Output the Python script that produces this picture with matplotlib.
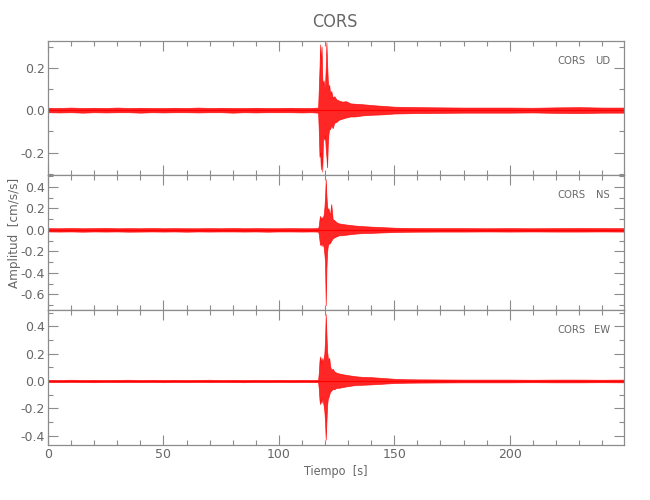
import matplotlib
matplotlib.use("Agg")
import matplotlib.pyplot as plt
from matplotlib.ticker import MultipleLocator, FormatStrFormatter

station = "CORS"
components = ["UD", "NS", "EW"]
x_label = "Tiempo  [s]"
y_label = "Amplitud  [cm/s/s]"

# time samples (s) at which the trace envelope was read
t = [0, 5, 10, 15, 20, 25, 30, 35, 40, 45, 50, 55, 60, 65, 70, 75, 80, 85, 90, 95,
     100, 105, 110, 114,
     117.0, 117.3, 117.6, 117.9, 118.2, 118.5, 118.8, 119.1, 119.4, 119.7, 120.0,
     120.3, 120.6, 120.9, 121.2, 121.5, 121.8,
     122.2, 122.7, 123.3, 124.0, 125.0, 126.0, 127.5, 129, 131, 133, 136, 140, 145,
     150, 155, 160,
     170, 180, 190, 200, 210, 220, 230, 240, 249.5]

ud_upper = [0.011, 0.010, 0.012, 0.010, 0.011, 0.010, 0.012, 0.010, 0.011, 0.010, 0.010, 0.011,
            0.010, 0.012, 0.010, 0.011, 0.010, 0.010, 0.011, 0.010, 0.010, 0.011, 0.010, 0.010,
            0.012, 0.10, 0.20, 0.31, 0.22, 0.30, 0.15, 0.12, 0.14, 0.10, 0.12, 0.20, 0.32, 0.22,
            0.14, 0.10, 0.12,
            0.08, 0.09, 0.06, 0.065, 0.05, 0.045, 0.04, 0.042, 0.032, 0.03, 0.028, 0.024, 0.02,
            0.016, 0.015, 0.014,
            0.013, 0.012, 0.012, 0.012, 0.011, 0.013, 0.014, 0.012, 0.012]
ud_lower = [-0.010, -0.011, -0.010, -0.012, -0.010, -0.011, -0.010, -0.010, -0.012, -0.010, -0.011, -0.010,
            -0.010, -0.011, -0.010, -0.010, -0.012, -0.010, -0.011, -0.010, -0.010, -0.010, -0.011, -0.010,
            -0.012, -0.10, -0.22, -0.20, -0.28, -0.20, -0.29, -0.14, -0.12, -0.14, -0.12, -0.18, -0.22, -0.27,
            -0.16, -0.11, -0.09,
            -0.09, -0.07, -0.085, -0.06, -0.055, -0.045, -0.04, -0.035, -0.03, -0.03, -0.025, -0.022, -0.02,
            -0.016, -0.015, -0.014,
            -0.013, -0.012, -0.012, -0.012, -0.011, -0.013, -0.014, -0.012, -0.012]

ns_upper = [0.016, 0.015, 0.017, 0.015, 0.016, 0.018, 0.015, 0.016, 0.015, 0.017, 0.015, 0.016,
            0.015, 0.015, 0.016, 0.015, 0.017, 0.015, 0.016, 0.015, 0.015, 0.016, 0.015, 0.015,
            0.016, 0.04, 0.10, 0.13, 0.09, 0.12, 0.10, 0.12, 0.14, 0.20, 0.30, 0.47, 0.32, 0.22,
            0.18, 0.20, 0.16,
            0.15, 0.24, 0.10, 0.09, 0.07, 0.06, 0.055, 0.05, 0.045, 0.04, 0.035, 0.03, 0.025,
            0.02, 0.018, 0.017,
            0.016, 0.016, 0.015, 0.016, 0.015, 0.016, 0.017, 0.016, 0.016]
ns_lower = [-0.015, -0.016, -0.015, -0.017, -0.015, -0.016, -0.015, -0.017, -0.016, -0.015, -0.016, -0.015,
            -0.017, -0.015, -0.016, -0.015, -0.015, -0.016, -0.015, -0.017, -0.015, -0.015, -0.016, -0.015,
            -0.016, -0.04, -0.10, -0.14, -0.12, -0.15, -0.12, -0.14, -0.16, -0.22, -0.30, -0.70, -0.36, -0.20,
            -0.15, -0.12, -0.13,
            -0.12, -0.10, -0.08, -0.07, -0.06, -0.05, -0.05, -0.045, -0.04, -0.035, -0.03, -0.028, -0.024,
            -0.02, -0.018, -0.017,
            -0.016, -0.016, -0.015, -0.016, -0.015, -0.016, -0.016, -0.015, -0.016]

ew_upper = [0.008, 0.007, 0.009, 0.007, 0.008, 0.007, 0.008, 0.009, 0.007, 0.008, 0.007, 0.008,
            0.007, 0.008, 0.009, 0.007, 0.008, 0.007, 0.008, 0.007, 0.008, 0.007, 0.008, 0.007,
            0.008, 0.06, 0.15, 0.18, 0.12, 0.17, 0.14, 0.15, 0.17, 0.20, 0.30, 0.49, 0.35, 0.22,
            0.17, 0.15, 0.17,
            0.11, 0.08, 0.09, 0.07, 0.06, 0.055, 0.05, 0.045, 0.04, 0.035, 0.03, 0.028, 0.022,
            0.016, 0.013, 0.012,
            0.011, 0.010, 0.010, 0.010, 0.009, 0.010, 0.010, 0.009, 0.010]
ew_lower = [-0.007, -0.008, -0.007, -0.008, -0.009, -0.007, -0.008, -0.007, -0.008, -0.007, -0.009, -0.007,
            -0.008, -0.007, -0.008, -0.007, -0.008, -0.009, -0.007, -0.008, -0.007, -0.008, -0.007, -0.008,
            -0.008, -0.06, -0.14, -0.17, -0.13, -0.16, -0.12, -0.15, -0.18, -0.22, -0.30, -0.43, -0.30, -0.18,
            -0.13, -0.12, -0.10,
            -0.08, -0.07, -0.06, -0.06, -0.05, -0.05, -0.045, -0.04, -0.035, -0.03, -0.028, -0.025, -0.02,
            -0.015, -0.013, -0.012,
            -0.011, -0.010, -0.010, -0.010, -0.009, -0.010, -0.010, -0.009, -0.010]

uppers = [ud_upper, ns_upper, ew_upper]
lowers = [ud_lower, ns_lower, ew_lower]
ylims = [(-0.306, 0.326), (-0.745, 0.51), (-0.469, 0.52)]
x_max = 249.5

axis_col = "#8c8c8c"
text_col = "#666666"
fam = ["DejaVu Sans"]

fig = plt.figure(figsize=(6.5, 5), dpi=100)
left, width = 48 / 650, 576 / 650
panels = [(41, 175), (175, 310), (310, 445)]

for i, comp in enumerate(components):
    top_px, bot_px = panels[i]
    ax = fig.add_axes([left, 1 - bot_px / 500, width, (bot_px - top_px) / 500])
    ax.fill_between(t, lowers[i], uppers[i], color="red", lw=0.5, alpha=0.85)
    ax.axhline(0, color="red", lw=0.9)
    ax.set_xlim(0, x_max)
    ax.set_ylim(*ylims[i])
    ax.xaxis.set_major_locator(MultipleLocator(50))
    ax.xaxis.set_minor_locator(MultipleLocator(10))
    ax.yaxis.set_major_locator(MultipleLocator(0.2))
    ax.yaxis.set_minor_locator(MultipleLocator(0.1))
    ax.yaxis.set_major_formatter(FormatStrFormatter("%.1f"))
    ax.tick_params(which="both", direction="in", top=True, right=True,
                   color=axis_col, width=0.8, labelcolor=text_col, labelsize=9)
    ax.tick_params(which="major", length=7, pad=2)
    ax.tick_params(which="minor", length=3.5)
    for s in ax.spines.values():
        s.set_color(axis_col)
        s.set_linewidth(0.9)
    if i < 2:
        ax.tick_params(labelbottom=False)
    ax.text((557 - 48) / 576, 0.85, station, transform=ax.transAxes,
            ha="left", va="center", color=text_col, fontsize=8, family=fam,
            fontstretch="condensed")
    ax.text((610 - 48) / 576, 0.85, comp, transform=ax.transAxes,
            ha="right", va="center", color=text_col, fontsize=8, family=fam,
            fontstretch="condensed")

fig.text(335 / 650, 1 - 22 / 500, station, ha="center", va="center",
         color=text_col, fontsize=13, family=fam, fontstretch="condensed")
fig.text(336 / 650, 1 - 471 / 500, x_label, ha="center", va="center",
         color=text_col, fontsize=9, family=fam, fontstretch="condensed")
fig.text(15 / 650, 1 - 233 / 500, y_label, ha="center", va="center", rotation=90,
         color=text_col, fontsize=9.5, family=fam, fontstretch="condensed")

fig.savefig("out.png", dpi=100)
